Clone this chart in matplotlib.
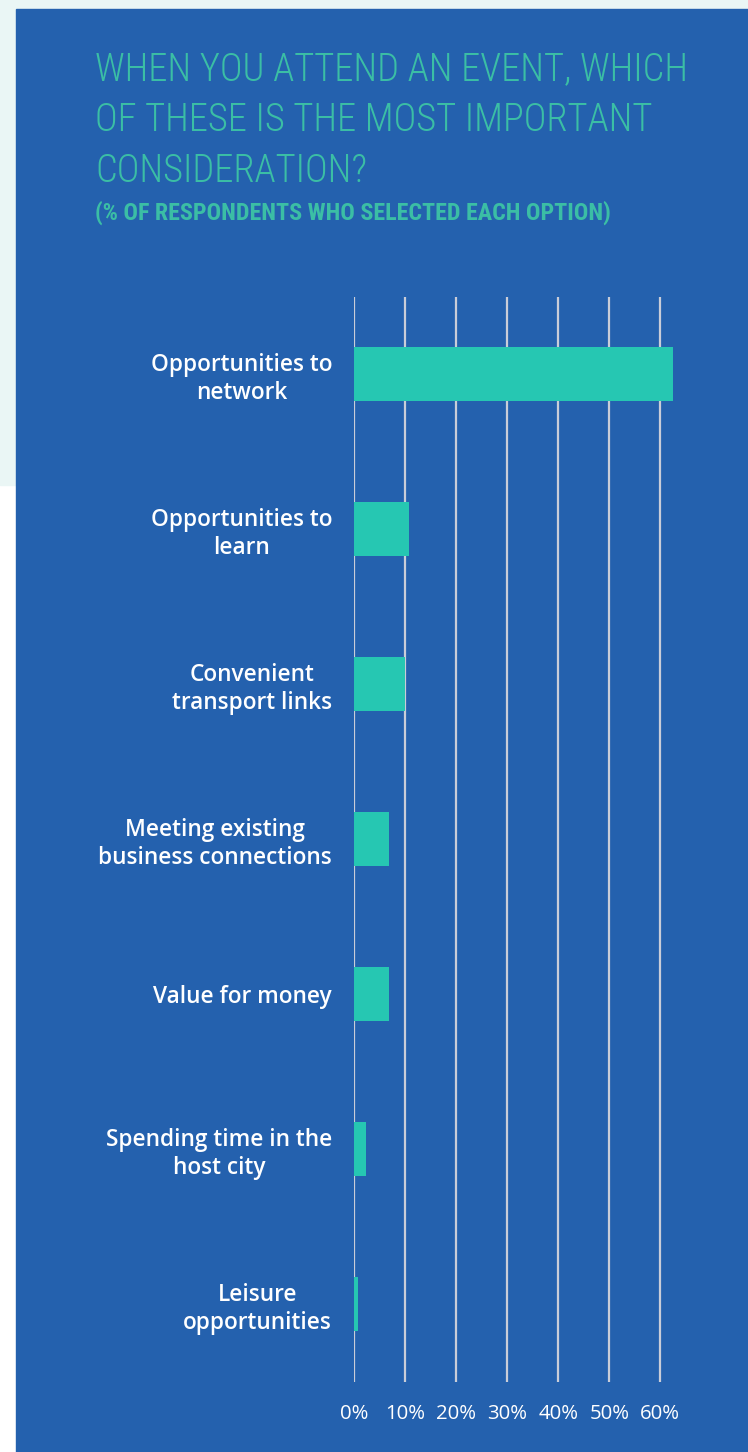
import matplotlib
matplotlib.use("Agg")
import matplotlib.pyplot as plt
import matplotlib.font_manager as fm
from matplotlib.patches import Rectangle

# Data
categories = [
    "Opportunities to\nnetwork",
    "Opportunities to\nlearn",
    "Convenient\ntransport links",
    "Meeting existing\nbusiness connections",
    "Value for money",
    "Spending time in the\nhost city",
    "Leisure\nopportunities",
]
values = [62.5, 10.8, 9.9, 6.8, 6.8, 2.3, 0.7]
ticks = [0, 10, 20, 30, 40, 50, 60]
tick_labels = ["0%", "10%", "20%", "30%", "40%", "50%", "60%"]

title_lines = ["WHEN YOU ATTEND AN EVENT, WHICH",
               "OF THESE IS THE MOST IMPORTANT",
               "CONSIDERATION?"]
subtitle = "(% OF RESPONDENTS WHO SELECTED EACH OPTION)"

# Colours
BLUE = "#2461ae"
BAR = "#26c7b2"
TITLE = "#3bbea5"
GRID = "#c9cdd8"
PALE = "#eaf6f5"

# pick a condensed font if one exists
names = {f.name for f in fm.fontManager.ttflist}
cond = "DejaVu Sans"
for n in ["Roboto Condensed", "Open Sans Condensed", "Liberation Sans Narrow",
          "Noto Sans Condensed", "DejaVu Sans Condensed"]:
    if n in names:
        cond = n
        break

W, H = 748, 1452
fig = plt.figure(figsize=(W / 100, H / 100), dpi=100)
fig.patch.set_facecolor("white")

# backgrounds (behind the axes)
fig.patches.append(Rectangle((0, 1 - 485 / H), 1, 485 / H, transform=fig.transFigure,
                             color=PALE, zorder=-3))
fig.patches.append(Rectangle((16 / W, 0), 1 - 16 / W, 1 - 9 / H, transform=fig.transFigure,
                             color=BLUE, zorder=-2))

# axes: 0% at x=354, 5.1 px per percent, rows 155 px apart
x0 = 354.3
ppu = 5.1
xmax = 70
top, bottom = 296.5, 1381.5
ax = fig.add_axes([x0 / W, 1 - bottom / H, xmax * ppu / W, (bottom - top) / H])
ax.set_facecolor("none")

y = list(range(len(categories)))
ax.barh(y, values, height=0.35, color=BAR, zorder=3)
ax.set_xlim(0, xmax)
ax.set_ylim(len(categories) - 0.5, -0.5)

ax.set_xticks(ticks)
ax.set_xticklabels(tick_labels, fontsize=15, color="white", family="Open Sans")
ax.set_yticks(y)
ax.set_yticklabels(categories, fontsize=15, color="white", family="Open Sans",
                   fontweight="semibold", linespacing=1.2)
for t in ax.get_yticklabels():
    t.set_multialignment("center")
ax.tick_params(axis="x", length=0, pad=16)
ax.tick_params(axis="y", length=0, pad=16)
ax.grid(axis="x", color=GRID, linewidth=1.6, zorder=1)
ax.set_axisbelow(True)
for s in ax.spines.values():
    s.set_visible(False)

# Title
tx = 95 / W
t_objs = []
for line, base in zip(title_lines, [80, 131, 182]):
    t = fig.text(tx, 1 - base / H, line, color=TITLE, fontsize=30, family=cond,
                 fontstretch="condensed", fontweight="light", ha="left", va="baseline")
    t_objs.append(t)
st = fig.text(tx, 1 - 220 / H, subtitle, color=TITLE, fontsize=18, family=cond,
              fontstretch="condensed", fontweight="bold", ha="left", va="baseline")

# fit text widths to the reference
fig.canvas.draw()
r = fig.canvas.get_renderer()
w1 = t_objs[0].get_window_extent(r).width
fs = 30 * 593 / w1
for t in t_objs:
    t.set_fontsize(fs)
ws = st.get_window_extent(r).width
st.set_fontsize(18 * 517 / ws)

ylabs = ax.get_yticklabels()
wl = ylabs[3].get_window_extent(r).width
for t in ylabs:
    t.set_fontsize(15 * 234 / wl)
wt = ax.get_xticklabels()[1].get_window_extent(r).width
for t in ax.get_xticklabels():
    t.set_fontsize(15 * 40 / wt)

fig.savefig("out.png", dpi=100, facecolor=fig.get_facecolor())
